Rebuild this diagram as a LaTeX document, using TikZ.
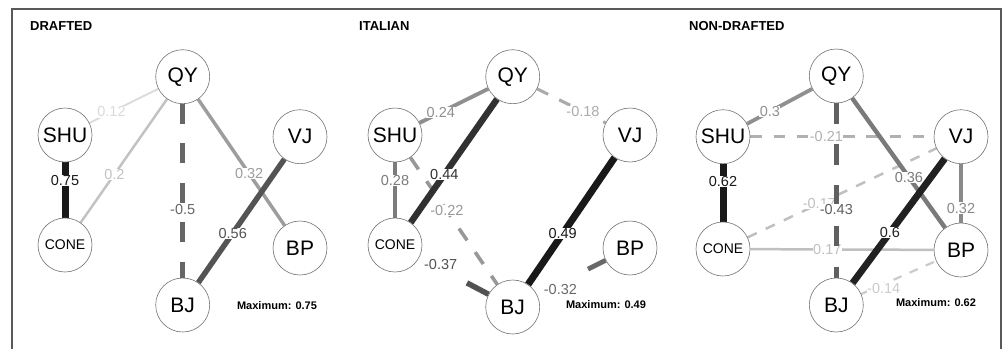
\documentclass[tikz,border=0pt]{standalone}
\usepackage{fontspec}
\setmainfont{Liberation Sans}
\usetikzlibrary{backgrounds}
\tikzset{
 vert/.style={circle, draw=black!55, fill=white, line width=0.6pt, minimum size=54pt, inner sep=0pt, font=\fontsize{21}{24}\selectfont},
 smallv/.style={font=\fontsize{14}{16}\selectfont},
 elab/.style={fill=white, inner sep=0.4pt, font=\fontsize{14.5}{16}\selectfont},
 ttl/.style={anchor=west, inner sep=0pt, font=\bfseries\fontsize{13}{15}\selectfont},
 maxl/.style={inner sep=0pt, font=\bfseries\fontsize{11}{13}\selectfont},
 dsh/.style={dash pattern=on \dl pt off \dl pt},
 frame/.style={draw=black!65, line width=1.3pt},
}
% {draw opts}{from}{to}{ratio}{label}{pos}{label opts}
\newcommand\pedge[7]{%
 \pgfmathsetmacro\ecol{90*#4}%
 \pgfmathsetmacro\ewid{0.8+6.2*#4}%
 \pgfmathsetmacro\dl{4*\ewid}%
 \draw[draw=black!\ecol, line width=\ewid pt, #1] (#2) -- (#3) node[elab, text=black!\ecol, pos=#6, #7] {#5};%
}
\begin{document}
\begin{tikzpicture}[x=1pt,y=-1pt]
\useasboundingbox (0,0) rectangle (1003,349);
\draw[frame] (12,349) -- (12,9) -- (1001,9) -- (1001,349);

% titles
\node[ttl] (t1) at (30,26) {DRAFTED};
\node[ttl] (t2) at (359,26) {ITALIAN};
\node[ttl] (t3) at (689,26) {NON-DRAFTED};
\node[maxl] (m1) at (277,306) {Maximum: 0.75};
\node[maxl] (m2) at (606,305) {Maximum: 0.49};
\node[maxl] (m3) at (936,303) {Maximum: 0.62};

% panel 1 nodes
\node[vert] (dQY) at (182.7,76.7) {QY};
\node[vert] (dSHU) at (65,135) {SHU};
\node[vert] (dVJ) at (300,136.7) {VJ};
\node[vert,smallv] (dCONE) at (65,245) {CONE};
\node[vert] (dBP) at (300,248) {BP};
\node[vert] (dBJ) at (182.7,305) {BJ};
% panel 2 nodes
\node[vert] (iQY) at (512.7,76.7) {QY};
\node[vert] (iSHU) at (395,135) {SHU};
\node[vert] (iVJ) at (630,135) {VJ};
\node[vert,smallv] (iCONE) at (395,245) {CONE};
\node[vert] (iBP) at (630,248) {BP};
\node[vert] (iBJ) at (512.7,307) {BJ};
% panel 3 nodes
\node[vert] (nQY) at (836.3,76) {QY};
\node[vert] (nSHU) at (723,136.7) {SHU};
\node[vert] (nVJ) at (961,136.7) {VJ};
\node[vert,smallv] (nCONE) at (723,249) {CONE};
\node[vert] (nBP) at (961,250) {BP};
\node[vert] (nBJ) at (836.3,305) {BJ};

\begin{scope}[on background layer]
\fill[white] (0,0) rectangle (1003,349);
% panel 1
\pedge{}{dQY}{dSHU}{0.16}{0.12}{0.68}{}
\pedge{}{dQY}{dCONE}{0.267}{0.2}{0.61}{}
\pedge{}{dQY}{dBP}{0.427}{0.32}{0.59}{}
\pedge{dsh}{dQY}{dBJ}{0.667}{-0.5}{0.61}{}
\pedge{}{dSHU}{dCONE}{1}{0.75}{0.32}{}
\pedge{}{dVJ}{dBJ}{0.747}{0.56}{0.60}{}
% panel 2
\pedge{}{iQY}{iSHU}{0.49}{0.24}{0.69}{}
\pedge{dsh}{iQY}{iVJ}{0.367}{-0.18}{0.67}{}
\pedge{}{iSHU}{iCONE}{0.571}{0.28}{0.32}{}
\pedge{dsh}{iSHU}{iBJ}{0.449}{-0.22}{0.42}{}
\pedge{}{iQY}{iCONE}{0.898}{0.44}{0.61}{}
\pedge{}{iVJ}{iBJ}{1}{0.49}{0.60}{}
\pedge{shorten <=54pt}{iCONE}{iBJ}{0.755}{-0.37}{0.31}{yshift=5pt}
\pedge{shorten <=57pt}{iBJ}{iBP}{0.653}{-0.32}{0.34}{yshift=-6pt}
% panel 3
\pedge{}{nQY}{nSHU}{0.484}{0.3}{0.65}{}
\pedge{dsh}{nSHU}{nVJ}{0.339}{-0.21}{0.415}{}
\pedge{}{nCONE}{nBP}{0.274}{0.17}{0.42}{}
\pedge{dsh}{nCONE}{nVJ}{0.274}{-0.17}{0.38}{}
\pedge{dsh}{nBJ}{nBP}{0.226}{-0.14}{0.30}{yshift=-4pt}
\pedge{}{nVJ}{nBP}{0.516}{0.32}{0.75}{}
\pedge{}{nQY}{nBP}{0.581}{0.36}{0.61}{}
\pedge{dsh}{nQY}{nBJ}{0.694}{-0.43}{0.61}{}
\pedge{}{nSHU}{nCONE}{1}{0.62}{0.30}{}
\pedge{}{nVJ}{nBJ}{0.968}{0.6}{0.595}{}
\end{scope}
\end{tikzpicture}
\end{document}
